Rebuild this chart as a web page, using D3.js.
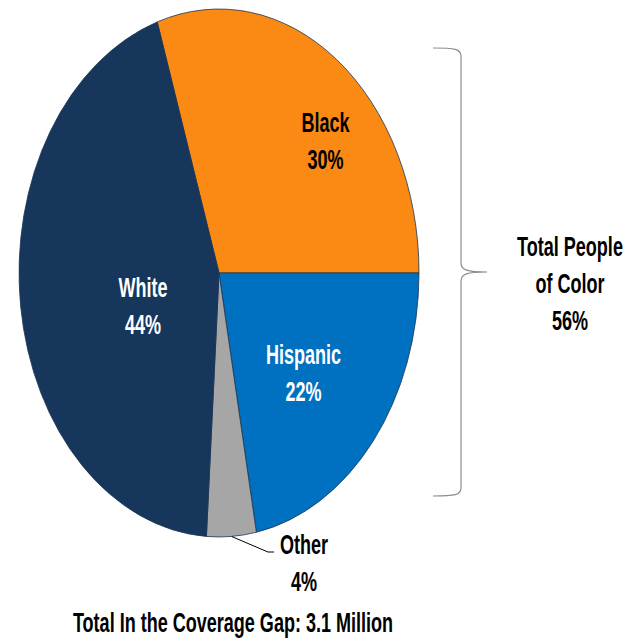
<!DOCTYPE html>
<html>
<head>
<meta charset="utf-8">
<script src="https://cdn.jsdelivr.net/npm/d3@7"></script>
<style>
  body { margin: 0; background: #fff; }
  svg { display: block; }
  .lbl { font-family: "Liberation Sans", Arial, sans-serif; font-weight: bold; font-size: 22px; text-anchor: middle; }
</style>
</head>
<body>
<svg id="chart" width="642" height="639"></svg>
<script>
// data
var groups = ['Black', 'Hispanic', 'Other', 'White'];
var shares = [30, 22, 4, 44];
var colors = ['#fb8a14', '#0070c0', '#a6a6a6', '#16365c'];
var textColors = ['#000', '#fff', '#000', '#fff'];
var bracketLabel = ['Total People', 'of Color', '56%'];
var title = 'Total In the Coverage Gap: 3.1 Million';

var width = 642, height = 639;
var cx = 219, cy = 273, rx = 200, ry = 264;
var lineGap = 37, squeeze = 0.82, stretch = 1.28;

var svg = d3.select('#chart');

var data = groups.map((g, i) => ({ name: g, value: shares[i], color: colors[i], text: textColors[i] }));

// Black slice ends at 3 o'clock, so start the pie 30% back from there
var start = Math.PI / 2 - shares[0] / 100 * 2 * Math.PI;
var pie = d3.pie()
  .sort(null)
  .value(d => d.value)
  .startAngle(start)
  .endAngle(start + 2 * Math.PI);

// unit circle, stretched into an ellipse
var arc = d3.arc().innerRadius(0).outerRadius(1);
var arcs = pie(data);

var g = svg.append('g')
  .attr('transform', 'translate(' + cx + ',' + cy + ') scale(' + rx + ',' + ry + ')');

g.selectAll('.slice')
  .data(arcs)
  .enter()
  .append('path')
  .attr('class', 'slice')
  .attr('d', arc)
  .attr('fill', d => d.data.color)
  .attr('stroke', '#1c3552')
  .attr('stroke-width', 0.8)
  .attr('vector-effect', 'non-scaling-stroke');

// position on the ellipse for an angle and radius fraction
function pt(a, r) {
  return [cx + Math.sin(a) * r * rx, cy - Math.cos(a) * r * ry];
}

// label nudges (px) from the 0.6 centroid
var nudge = { Black: [36, -3], Hispanic: [-8, 0], White: [43, 14] };

function addText(x, y, t, fill) {
  svg.append('text')
    .attr('class', 'lbl')
    .attr('transform', 'translate(' + x + ',' + y + ') scale(' + squeeze + ',' + stretch + ')')
    .attr('fill', fill)
    .text(t);
}

function lines(x, y, arr, fill) {
  arr.forEach((t, i) => addText(x, y + i * lineGap, t, fill));
}

arcs.forEach(d => {
  var mid = (d.startAngle + d.endAngle) / 2;
  var label = [d.data.name, d.data.value + '%'];
  if (d.data.name === 'Other') {
    var p0 = pt(mid, 1);
    svg.append('polyline')
      .attr('points', [p0, [268, 552], [274, 552]].map(p => p.join(',')).join(' '))
      .attr('fill', 'none')
      .attr('stroke', '#000')
      .attr('stroke-width', 1);
    lines(304, 554, label, d.data.text);
  } else {
    var c = pt(mid, 0.6);
    var n = nudge[d.data.name];
    // baseline of first line
    lines(c[0] + n[0], c[1] + n[1] - lineGap / 2 + 9, label, d.data.text);
  }
});

// curly brace for people of color
var bx = 461, bTop = 48, bBot = 496, tipY = 272, bLeft = 433, tipX = 487;
var brace = d3.path();
brace.moveTo(bLeft, bTop);
brace.bezierCurveTo(bx - 6, bTop, bx, bTop + 1, bx, bTop + 8);
brace.lineTo(bx, tipY - 9);
brace.bezierCurveTo(bx, tipY - 2, bx + 6, tipY, tipX, tipY);
brace.moveTo(tipX, tipY);
brace.bezierCurveTo(bx + 6, tipY, bx, tipY + 2, bx, tipY + 9);
brace.lineTo(bx, bBot - 8);
brace.bezierCurveTo(bx, bBot - 1, bx - 6, bBot, bLeft, bBot);

svg.append('path')
  .attr('d', brace.toString())
  .attr('fill', 'none')
  .attr('stroke', '#8c8c8c')
  .attr('stroke-width', 1.2);

lines(570, 256, bracketLabel, '#000');

addText(233, 632, title, '#000');
</script>
</body>
</html>
